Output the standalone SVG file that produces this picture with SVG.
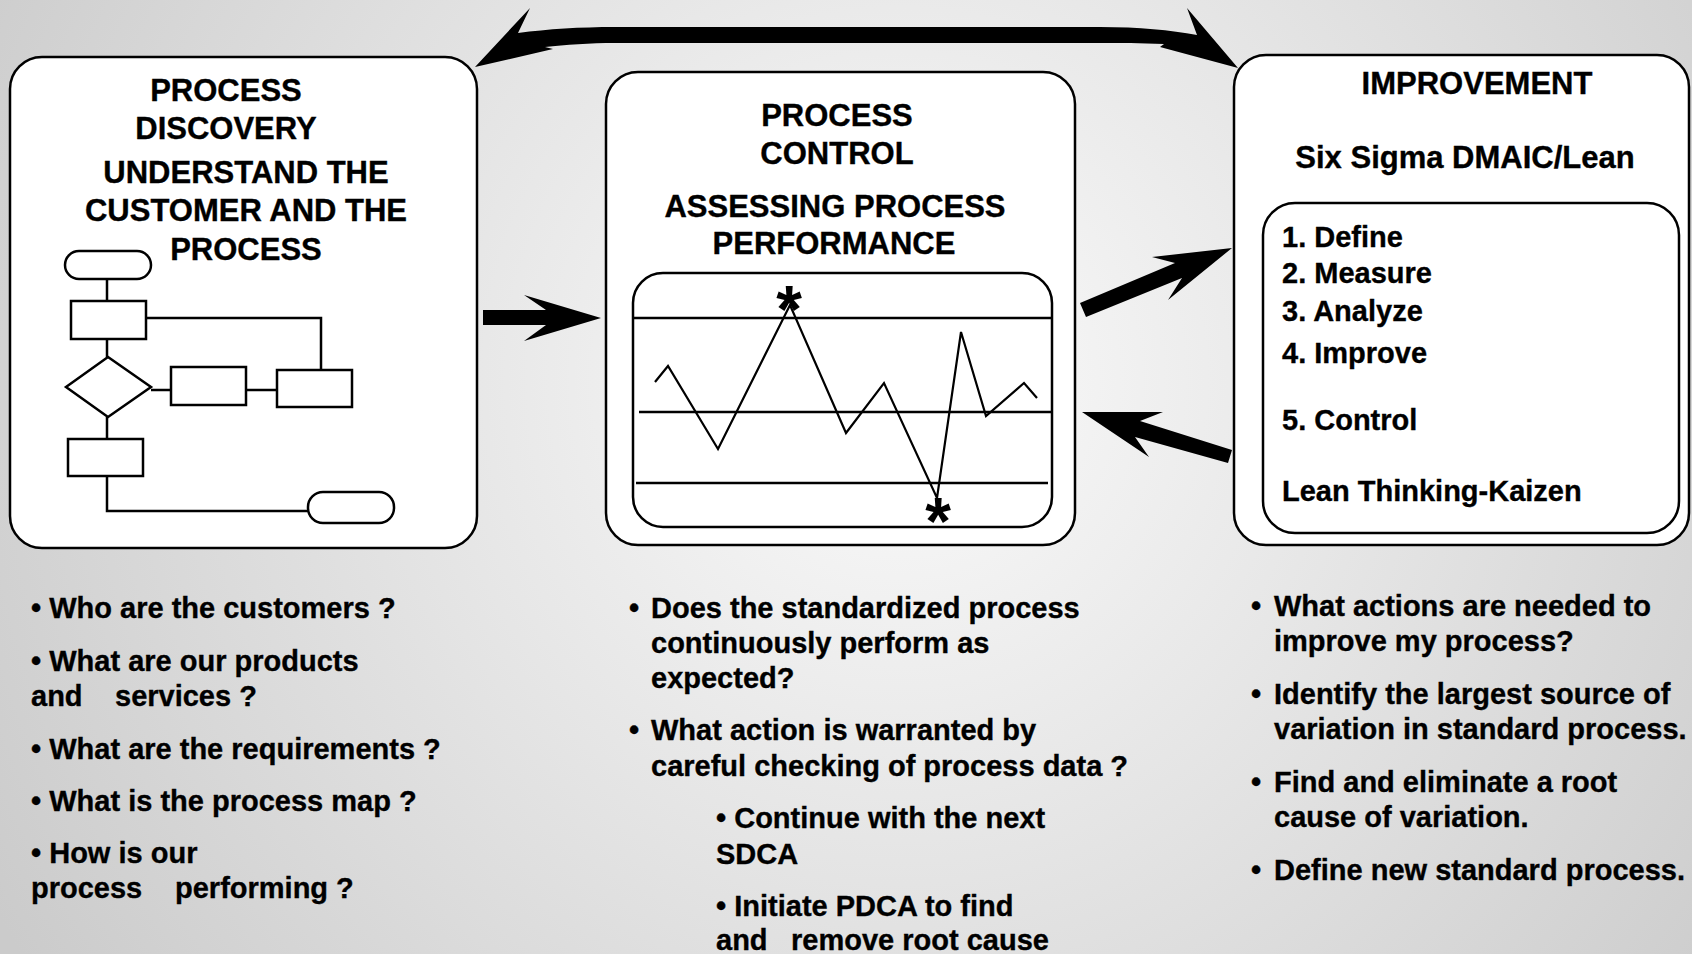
<svg xmlns="http://www.w3.org/2000/svg" width="1692" height="954" viewBox="0 0 1692 954">
  <defs>
    <radialGradient id="bg" gradientUnits="userSpaceOnUse" cx="900" cy="380" r="1050">
      <stop offset="0" stop-color="#fbfbfb"/>
      <stop offset="1" stop-color="#cbcbcb"/>
    </radialGradient>
  </defs>
  <style>
    .box{fill:#fff;stroke:#000;stroke-width:2.5}
    .fc{fill:#fff;stroke:#000;stroke-width:2.5}
    .ln{fill:none;stroke:#000;stroke-width:2.5}
    .data{fill:none;stroke:#000;stroke-width:2.2;stroke-linejoin:miter}
    .t{font-family:"Liberation Sans",Arial,Helvetica,sans-serif;font-weight:bold;fill:#000;stroke:#000;stroke-width:0.35}
    .h{font-size:31px;text-anchor:middle}
    .l{font-size:29px}
    .b{font-size:29px}
    .star{font-size:66px;text-anchor:middle;stroke-width:0}
    .arrow{fill:#000}
  </style>

  <rect width="1692" height="954" fill="url(#bg)"/>

  <!-- Process discovery -->
  <g id="discovery">
    <rect class="box" x="10" y="57" width="467" height="491" rx="32"/>
    <text class="t h" x="226" y="101">PROCESS</text>
    <text class="t h" x="226" y="139">DISCOVERY</text>
    <text class="t h" x="246" y="183">UNDERSTAND THE</text>
    <text class="t h" x="246" y="221">CUSTOMER AND THE</text>
    <text class="t h" x="246" y="260">PROCESS</text>
    <!-- small process map -->
    <g id="process-map">
      <path class="ln" d="M107,279 V301 M146,318 H321 V370 M107,339 V357 M151,390 H171 M246,390 H277 M107,417 V439 M107,476 V511 H308"/>
      <rect class="fc" x="65" y="251" width="86" height="28" rx="14"/>
      <rect class="fc" x="71" y="301" width="75" height="38"/>
      <polygon class="fc" points="108,357 151,387 108,417 66,387"/>
      <rect class="fc" x="171" y="367" width="75" height="38"/>
      <rect class="fc" x="277" y="370" width="75" height="37"/>
      <rect class="fc" x="68" y="439" width="75" height="37"/>
      <rect class="fc" x="308" y="492" width="86" height="31" rx="15"/>
    </g>
  </g>

  <!-- Process control -->
  <g id="control">
    <rect class="box" x="606" y="72" width="469" height="473" rx="32"/>
    <text class="t h" x="837" y="126">PROCESS</text>
    <text class="t h" x="837" y="164">CONTROL</text>
    <text class="t h" x="835" y="217">ASSESSING PROCESS</text>
    <text class="t h" x="834" y="254">PERFORMANCE</text>
    <g id="control-chart">
      <rect class="box" x="633" y="273" width="419" height="254" rx="30"/>
      <path class="ln" d="M633,318 H1052 M639,412 H1052 M636,483 H1048"/>
      <polyline class="data" points="655,382 668,366 718,449 790,305 846,433 884,383 937,498 961,332 986,416 1024,383 1037,398"/>
      <text class="t star" x="789" y="332">*</text>
      <text class="t star" x="938" y="544">*</text>
    </g>
  </g>

  <!-- Improvement -->
  <g id="improvement">
    <rect class="box" x="1234" y="55" width="455" height="490" rx="32"/>
    <text class="t h" x="1477" y="94">IMPROVEMENT</text>
    <text class="t h" x="1465" y="168">Six Sigma DMAIC/Lean</text>
    <rect class="box" x="1263" y="203" width="416" height="330" rx="32"/>
    <text class="t l" x="1282" y="247">1. Define</text>
    <text class="t l" x="1282" y="283">2. Measure</text>
    <text class="t l" x="1282" y="321">3. Analyze</text>
    <text class="t l" x="1282" y="363">4. Improve</text>
    <text class="t l" x="1282" y="430">5. Control</text>
    <text class="t l" x="1282" y="501">Lean Thinking-Kaizen</text>
  </g>

  <!-- Connectors -->
  <g id="connectors">
    <path class="arrow" d="M475,67 L530,8 L518,33 C548,29 580,27 615,27 L1100,27 C1140,27 1170,30 1197,35 L1187,8 L1238,68 L1160,47 L1164,44 C1140,43 1120,43 1100,43 L615,43 C590,43 565,45 545,47 L553,49 Z"/>
    <polygon class="arrow" points="483,310 546,310 524,295 601,318 524,341 546,325 483,325"/>
    <polygon class="arrow" points="1086,317 1080,303 1175,263 1152,257 1232,248 1168,300 1182,278"/>
    <polygon class="arrow" points="1082,412 1163,412 1140,421 1232,450 1228,463 1135,437 1149,457"/>
  </g>

  <!-- Questions under each stage -->
  <g id="discovery-notes" class="t b">
    <text x="31" y="618">• Who are the customers ?</text>
    <text x="31" y="671">• What are our products</text>
    <text y="706"><tspan x="31">and</tspan><tspan x="115">services ?</tspan></text>
    <text x="31" y="759">• What are the requirements ?</text>
    <text x="31" y="811">• What is the process map ?</text>
    <text x="31" y="863">• How is our</text>
    <text y="898"><tspan x="31">process</tspan><tspan x="175">performing ?</tspan></text>
  </g>
  <g id="control-notes" class="t b">
    <text x="629" y="618">•</text>
    <text x="651" y="618">Does the standardized process</text>
    <text x="651" y="653">continuously perform as</text>
    <text x="651" y="688">expected?</text>
    <text x="629" y="740">•</text>
    <text x="651" y="740">What action is warranted by</text>
    <text x="651" y="776">careful checking of process data ?</text>
    <text x="716" y="828">• Continue with the next</text>
    <text x="716" y="864">SDCA</text>
    <text x="716" y="916">• Initiate PDCA to find</text>
    <text y="950"><tspan x="716">and</tspan><tspan x="791">remove root cause</tspan></text>
  </g>
  <g id="improvement-notes" class="t b">
    <text x="1251" y="616">•</text>
    <text x="1274" y="616">What actions are needed to</text>
    <text x="1274" y="651">improve my process?</text>
    <text x="1251" y="704">•</text>
    <text x="1274" y="704">Identify the largest source of</text>
    <text x="1274" y="739">variation in standard process.</text>
    <text x="1251" y="792">•</text>
    <text x="1274" y="792">Find and eliminate a root</text>
    <text x="1274" y="827">cause of variation.</text>
    <text x="1251" y="880">•</text>
    <text x="1274" y="880">Define new standard process.</text>
  </g>
</svg>
